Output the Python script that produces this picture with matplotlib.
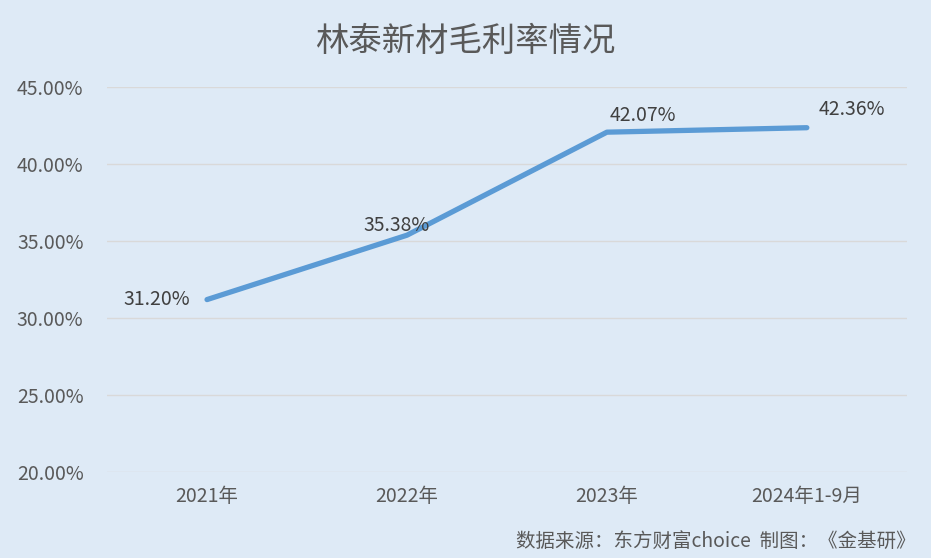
import matplotlib
matplotlib.use('Agg')
import matplotlib.pyplot as plt

plt.rcParams['font.family'] = ['Noto Sans CJK SC', 'DejaVu Sans']

categories = ['2021年', '2022年', '2023年', '2024年1-9月']
margin = [31.20, 35.38, 42.07, 42.36]
yticks = [20, 25, 30, 35, 40, 45]

bg = '#deeaf6'
txt = '#595959'

fig = plt.figure(figsize=(9.31, 5.58), dpi=100, facecolor=bg)
ax = fig.add_axes([0.115, 0.154, 0.859, 0.69], facecolor=bg)

x = list(range(len(categories)))
ax.plot(x, margin, color='#5b9bd5', linewidth=3.8, solid_capstyle='round')

# label offsets in pixels, roughly as in the original
offsets = [(-17, 0, 'right'), (-10, 10, 'center'), (36, 17, 'center'), (45, 18, 'center')]
for xi, v, (dx, dy, ha) in zip(x, margin, offsets):
    ax.annotate(f'{v:.2f}%', (xi, v), xytext=(dx, dy), textcoords='offset pixels',
                ha=ha, va='center', fontsize=14, color='#404040')

ax.set_xlim(-0.5, len(categories) - 0.5)
ax.set_ylim(20, 45)
ax.set_yticks(yticks)
ax.set_yticklabels([f'{t:.2f}%' for t in yticks])
ax.set_xticks(x)
ax.set_xticklabels(categories)
ax.tick_params(length=0, labelsize=14, colors=txt)
ax.tick_params(axis='y', pad=17)
ax.tick_params(axis='x', pad=10)
ax.grid(axis='y', color='#d9d9d9', linewidth=1)
ax.set_axisbelow(True)
for s in ax.spines.values():
    s.set_visible(False)

fig.text(0.5, 0.925, '林泰新材毛利率情况', ha='center', va='center', fontsize=24, color=txt)
fig.text(0.983, 0.03, '数据来源：东方财富choice  制图：《金基研》', ha='right', va='center',
         fontsize=14, color=txt)

fig.savefig('out.png', dpi=100, facecolor=bg)
